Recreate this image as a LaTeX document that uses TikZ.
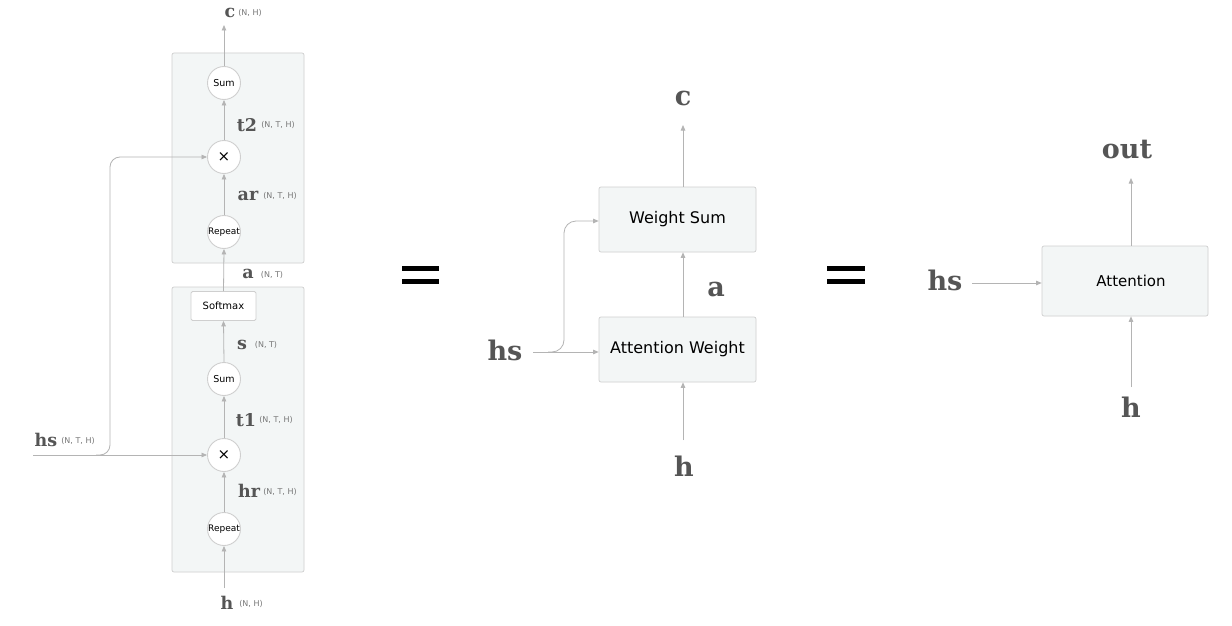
\documentclass[tikz,border=0pt]{standalone}
\usepackage{fontspec}
\setmainfont{DejaVu Sans}
\newfontfamily\lblfont{DejaVu Serif}
\usetikzlibrary{arrows.meta}
\definecolor{arrowgray}{HTML}{B4B4B4}
\definecolor{boxfill}{HTML}{F3F6F6}
\definecolor{boxline}{HTML}{CFCFCF}
\definecolor{lblcol}{HTML}{555555}
\definecolor{dimcol}{HTML}{777777}
\begin{document}
\begin{tikzpicture}[x=1pt,y=-1pt,
  arr/.style={draw=arrowgray, line width=0.8pt, -{Triangle[width=4.5pt,length=5.5pt]}},
  groupbox/.style={draw=boxline, fill=boxfill, rounded corners=2pt, line width=0.7pt, inner sep=0},
  opcirc/.style={circle, draw=boxline, fill=white, line width=0.9pt, minimum size=33pt, inner sep=0, font=\fontsize{9.5}{10}\selectfont},
  oprect/.style={draw=boxline, fill=white, rounded corners=1.5pt, line width=0.8pt, minimum width=65pt, minimum height=29pt, inner sep=0, font=\fontsize{10}{11}\selectfont},
  bigbox/.style={draw=boxline, fill=boxfill, rounded corners=2pt, line width=0.7pt, minimum width=157pt, minimum height=65pt, inner sep=0, font=\fontsize{16}{18}\selectfont},
  lblS/.style={text=lblcol, font=\lblfont\bfseries\fontsize{17.5}{18}\selectfont, inner sep=0},
  lblL/.style={text=lblcol, font=\lblfont\bfseries\fontsize{27}{28}\selectfont, inner sep=0},
  dim/.style={text=dimcol, font=\fontsize{8}{9}\selectfont, inner sep=0},
  mulsign/.style={font=\fontsize{15}{16}\selectfont},
  repsign/.style={font=\fontsize{9}{10}\selectfont},
  eqbar/.style={fill=black}
]
\useasboundingbox (0,0) rectangle (1232,626);
\fill[white] (0,0) rectangle (1232,626);

% ---------- left diagram ----------
\node[groupbox, minimum width=132pt, minimum height=210pt] (g1) at (238,158) {};
\node[groupbox, minimum width=132pt, minimum height=285pt] (g2) at (238,429.5) {};

\node[opcirc] (sum1) at (224,83) {Sum};
\node[opcirc, mulsign] (mul1) at (224,157) {×};
\node[opcirc, repsign] (rep1) at (224,232) {Repeat};
\node[oprect] (soft) at (223.5,306) {Softmax};
\node[opcirc] (sum2) at (224,379) {Sum};
\node[opcirc, mulsign] (mul2) at (224,455) {×};
\node[opcirc, repsign] (rep2) at (224,529) {Repeat};

\coordinate (cL) at (224,25);
\coordinate (hL) at (224,588);
\coordinate (hsL) at (33,455);

\draw[arr] (hL) -- (rep2.south);
\draw[arr] (rep2.north) -- (mul2.south);
\draw[arr] (mul2.north) -- (sum2.south);
\draw[arr] (sum2.north) -- (soft.south);
\draw[arr] (soft.north) -- (rep1.south);
\draw[arr] (rep1.north) -- (mul1.south);
\draw[arr] (mul1.north) -- (sum1.south);
\draw[arr] (sum1.north) -- (cL);
\draw[arr] (hsL) -- (mul2.west);
\draw[arr, rounded corners=10pt] (96,455) -- (110,455) -- (110,157) -- (mul1.west);

\node[lblS] (lc) at (230,13) {c};
\node[dim] (dc) at (250,13) {(N, H)};
\node[lblS] (lt2) at (247,125) {t2};
\node[dim] (dt2) at (278,125) {(N, T, H)};
\node[lblS] (lar) at (248,196) {ar};
\node[dim] (dar) at (280,196) {(N, T, H)};
\node[lblS] (la) at (248,274) {a};
\node[dim] (da) at (272,275) {(N, T)};
\node[lblS] (ls) at (242,345) {s};
\node[dim] (ds) at (266,345) {(N, T)};
\node[lblS] (lt1) at (246,420) {t1};
\node[dim] (dt1) at (276,420) {(N, T, H)};
\node[lblS] (lhr) at (249,491) {hr};
\node[dim] (dhr) at (280,492) {(N, T, H)};
\node[lblS] (lh) at (227,603) {h};
\node[dim] (dh) at (251,604) {(N, H)};
\node[lblS] (lhs) at (46,440) {hs};
\node[dim] (dhs) at (78,441) {(N, T, H)};

% ---------- equals ----------
\fill[eqbar] (402,266) rectangle (439,271);
\fill[eqbar] (402,279) rectangle (439,284);
\fill[eqbar] (827,266) rectangle (865,271);
\fill[eqbar] (827,279) rectangle (865,284);

% ---------- middle diagram ----------
\node[bigbox] (ws) at (677.5,219.5) {Weight Sum};
\node[bigbox] (aw) at (677.5,349.5) {Attention Weight};
\coordinate (cM) at (683,125);
\coordinate (hM) at (683,440);
\coordinate (hsM) at (533,352);

\draw[arr] (hM) -- (hM |- aw.south);
\draw[arr] (aw.north -| hM) -- (ws.south -| hM);
\draw[arr] (ws.north -| cM) -- (cM);
\draw[arr] (hsM) -- (hsM -| aw.west);
\draw[arr, rounded corners=12pt] (548,352) -- (564,352) -- (564,221) -- (ws.west |- 0,221);

\node[lblL] (mc) at (683,98) {c};
\node[lblL] (ma) at (716,289) {a};
\node[lblL] (mh) at (684,466) {h};
\node[lblL] (mhs) at (505,350) {hs};

% ---------- right diagram ----------
\node[bigbox, minimum width=166pt, minimum height=70pt, font=\fontsize{15}{16}\selectfont] (att) at (1125,281) {\hspace{12pt}Attention};
\coordinate (outR) at (1131,178);
\coordinate (hR) at (1131,387);
\coordinate (hsR) at (972,283);
\draw[arr] (att.north -| outR) -- (outR);
\draw[arr] (hR) -- (hR |- att.south);
\draw[arr] (hsR) -- (hsR -| att.west);

\node[lblL] (rout) at (1127,150) {out};
\node[lblL] (rhs) at (945,280) {hs};
\node[lblL] (rh) at (1131,407) {h};
\end{tikzpicture}
\end{document}
